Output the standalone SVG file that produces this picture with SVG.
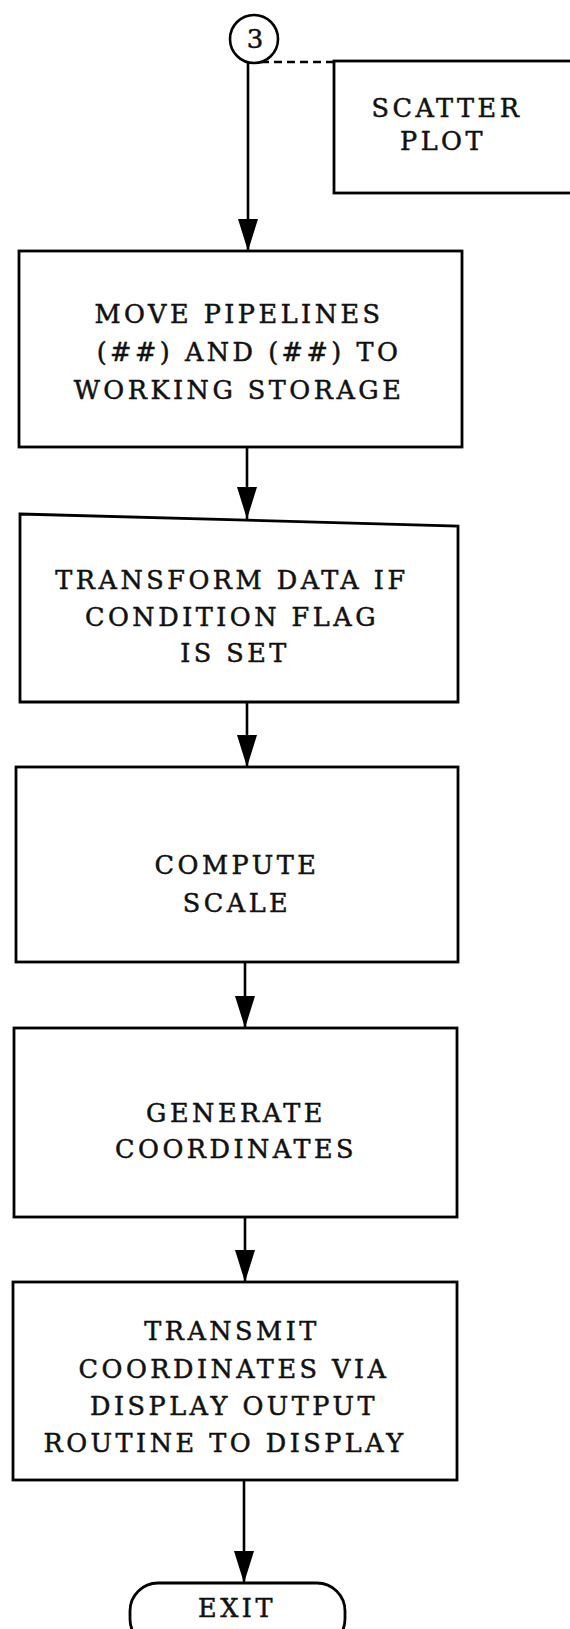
<svg xmlns="http://www.w3.org/2000/svg" width="570" height="1629" viewBox="0 0 570 1629">
<defs>
<marker id="ah" markerWidth="32" markerHeight="20" refX="32" refY="10" orient="auto" markerUnits="userSpaceOnUse" viewBox="0 0 32 20">
<path d="M0,0 L32,10 L0,20 Z" fill="#000"/>
</marker>
</defs>
<style>
.box { fill: #fff; stroke: #000; stroke-width: 2.8; }
.t { font-family: "DejaVu Serif", "Liberation Serif", serif; font-size: 25.5px; letter-spacing: 3.5px; text-anchor: middle; fill: #111; stroke: #111; stroke-width: 0.5; }
.c { stroke: #000; stroke-width: 2.6; fill: none; }
.d { stroke: #000; stroke-width: 2.4; stroke-dasharray: 8 5; fill: none; }
</style>
<rect x="0" y="0" width="570" height="1629" fill="#fff"/>
<g id="connectors">
<line class="d" x1="248" y1="62" x2="334" y2="62"/>
<line class="c" x1="248" y1="62" x2="248" y2="251" marker-end="url(#ah)"/>
<line class="c" x1="247" y1="447" x2="247" y2="519" marker-end="url(#ah)"/>
<line class="c" x1="247" y1="702" x2="247" y2="767" marker-end="url(#ah)"/>
<line class="c" x1="245" y1="962" x2="245" y2="1028" marker-end="url(#ah)"/>
<line class="c" x1="245" y1="1217" x2="245" y2="1282" marker-end="url(#ah)"/>
<line class="c" x1="244" y1="1480" x2="244" y2="1583" marker-end="url(#ah)"/>
</g>
<g id="connector-3">
<circle cx="254" cy="39" r="24" fill="#fff" stroke="#000" stroke-width="2.6"/>
<text class="t" x="255" y="48" style="letter-spacing:0;font-size:26px">3</text>
</g>
<g id="scatter-plot">
<rect class="box" x="334" y="61" width="260" height="132"/>
<text class="t" x="447" y="117">SCATTER</text>
<text class="t" x="443" y="150">PLOT</text>
</g>
<g id="move-pipelines">
<rect class="box" x="19" y="251" width="443" height="196"/>
<text class="t" x="239" y="323">MOVE PIPELINES</text>
<text class="t" x="249" y="361">(##) AND (##) TO</text>
<text class="t" x="239" y="399">WORKING STORAGE</text>
</g>
<g id="transform-data">
<polygon class="box" points="20,514 458,526 458,702 20,702"/>
<text class="t" x="232" y="589">TRANSFORM DATA IF</text>
<text class="t" x="232" y="626">CONDITION FLAG</text>
<text class="t" x="235" y="662">IS SET</text>
</g>
<g id="compute-scale">
<rect class="box" x="16" y="767" width="442" height="195"/>
<text class="t" x="237" y="874">COMPUTE</text>
<text class="t" x="237" y="912">SCALE</text>
</g>
<g id="generate-coordinates">
<rect class="box" x="14" y="1028" width="443" height="189"/>
<text class="t" x="236" y="1122">GENERATE</text>
<text class="t" x="236" y="1158">COORDINATES</text>
</g>
<g id="transmit-coordinates">
<rect class="box" x="13" y="1282" width="444" height="198"/>
<text class="t" x="232" y="1340">TRANSMIT</text>
<text class="t" x="234" y="1378">COORDINATES VIA</text>
<text class="t" x="234" y="1415">DISPLAY OUTPUT</text>
<text class="t" x="225" y="1452">ROUTINE TO DISPLAY</text>
</g>
<g id="exit">
<rect class="box" x="130" y="1583" width="215" height="64" rx="28" ry="28"/>
<text class="t" x="237" y="1617">EXIT</text>
</g>
</svg>
